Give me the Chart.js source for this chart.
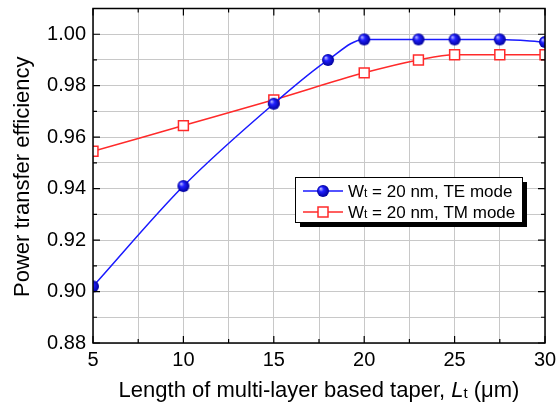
<!DOCTYPE html>
<html>
<head>
<meta charset="utf-8">
<script src="https://cdn.jsdelivr.net/npm/chart.js@4/dist/chart.umd.min.js"></script>
<style>
  body { margin: 0; background: #fff; }
  #wrap { width: 556px; height: 404px; }
</style>
</head>
<body>
<div id="wrap"><canvas id="myChart"></canvas></div>
<script>
// taper length (um) and power transfer efficiency
const teLength = [5, 10, 15, 18, 20, 23, 25, 27.5, 30];
const teEfficiency = [0.902, 0.941, 0.973, 0.990, 0.998, 0.998, 0.998, 0.998, 0.997];
const tmLength = [5, 10, 15, 20, 23, 25, 27.5, 30];
const tmEfficiency = [0.9545, 0.9645, 0.9745, 0.985, 0.990, 0.992, 0.992, 0.992];
const seriesNames = ["= 20 nm, TE mode", "= 20 nm, TM mode"];

const FONT = "'Liberation Sans', Arial, sans-serif";
const BLUE = "#1a1aff";
const RED = "#ff2a2a";

// shaded blue ball used as the TE marker
function makeBall(r) {
  const c = document.createElement("canvas");
  c.width = c.height = r * 2 + 2;
  const g = c.getContext("2d");
  const m = r + 1;
  const grad = g.createRadialGradient(m - r * 0.4, m - r * 0.4, 0.5, m, m, r);
  grad.addColorStop(0, "#b0b0ff");
  grad.addColorStop(0.35, "#2020ff");
  grad.addColorStop(1, "#00009a");
  g.fillStyle = grad;
  g.beginPath();
  g.arc(m, m, r, 0, Math.PI * 2);
  g.fill();
  return c;
}
const ball = makeBall(6);

const toPoints = (xs, ys) => xs.map((x, i) => ({ x: x, y: ys[i] }));

// frame, inward ticks, axis titles and the boxed legend
const decorations = {
  id: "decorations",
  afterDraw(chart) {
    const ctx = chart.ctx;
    const { left, right, top, bottom } = chart.chartArea;
    const xs = chart.scales.x, ys = chart.scales.y;
    ctx.save();
    ctx.strokeStyle = "#000";
    ctx.lineWidth = 1.5;
    ctx.strokeRect(left, top, right - left, bottom - top);

    ctx.lineWidth = 1.2;
    ctx.beginPath();
    for (let v = 5; v <= 30.001; v += 2.5) {
      const len = v % 5 === 0 ? 7 : 4;
      const px = xs.getPixelForValue(v);
      ctx.moveTo(px, bottom); ctx.lineTo(px, bottom - len);
      ctx.moveTo(px, top); ctx.lineTo(px, top + len);
    }
    for (let i = 88; i <= 101; i++) {
      const len = i % 2 === 0 ? 7 : 4;
      const py = ys.getPixelForValue(i / 100);
      ctx.moveTo(left, py); ctx.lineTo(left + len, py);
      ctx.moveTo(right, py); ctx.lineTo(right - len, py);
    }
    ctx.stroke();

    // y title
    ctx.fillStyle = "#000";
    ctx.font = "22px " + FONT;
    ctx.textAlign = "center";
    ctx.textBaseline = "middle";
    ctx.save();
    ctx.translate(23, (top + bottom) / 2 + 1);
    ctx.rotate(-Math.PI / 2);
    ctx.fillText("Power transfer efficiency", 0, 0);
    ctx.restore();

    // x title with italic L and subscript t
    const parts = [
      { t: "Length of multi-layer based taper, ", f: "22px " + FONT, dy: 0 },
      { t: "L", f: "italic 22px " + FONT, dy: 0 },
      { t: "t", f: "15px " + FONT, dy: 1 },
      { t: " (\u03bcm)", f: "22px " + FONT, dy: 0 }
    ];
    ctx.textAlign = "left";
    ctx.textBaseline = "alphabetic";
    let total = 0;
    parts.forEach((p) => { ctx.font = p.f; p.w = ctx.measureText(p.t).width; total += p.w; });
    let x = (left + right) / 2 - total / 2;
    parts.forEach((p) => { ctx.font = p.f; ctx.fillText(p.t, x, 397 + p.dy); x += p.w; });

    // legend box with shadow
    const bx = 295, by = 177, bw = 227, bh = 45;
    ctx.fillStyle = "#000";
    ctx.fillRect(bx + 5, by + 5, bw, bh);
    ctx.fillStyle = "#fff";
    ctx.fillRect(bx, by, bw, bh);
    ctx.lineWidth = 1;
    ctx.strokeRect(bx + 0.5, by + 0.5, bw, bh);

    const rows = [
      { y: 191, color: BLUE, label: seriesNames[0] },
      { y: 212, color: RED, label: seriesNames[1] }
    ];
    rows.forEach((r, i) => {
      ctx.strokeStyle = r.color;
      ctx.lineWidth = 1.5;
      ctx.beginPath();
      ctx.moveTo(303, r.y); ctx.lineTo(343, r.y);
      ctx.stroke();
      if (i === 0) {
        ctx.drawImage(ball, 323 - ball.width / 2, r.y - ball.height / 2);
      } else {
        ctx.fillStyle = "#fff";
        ctx.fillRect(318, r.y - 5, 10, 10);
        ctx.strokeRect(318, r.y - 5, 10, 10);
      }
      ctx.fillStyle = "#000";
      ctx.textBaseline = "middle";
      ctx.font = "17px " + FONT;
      ctx.fillText("W", 348, r.y + 1);
      let wx = 348 + ctx.measureText("W").width;
      ctx.font = "12px " + FONT;
      ctx.fillText("t", wx, r.y + 3);
      wx += ctx.measureText("t").width;
      ctx.font = "17px " + FONT;
      ctx.fillText(" " + r.label, wx, r.y + 1);
    });
    ctx.restore();
  }
};

const ctx = document.getElementById("myChart");
new Chart(ctx, {
  type: "line",
  plugins: [decorations],
  data: {
    datasets: [
      {
        label: "TE",
        data: toPoints(teLength, teEfficiency),
        borderColor: BLUE,
        borderWidth: 1.5,
        pointStyle: ball,
        cubicInterpolationMode: "monotone",
        order: 1
      },
      {
        label: "TM",
        data: toPoints(tmLength, tmEfficiency),
        borderColor: RED,
        borderWidth: 1.5,
        pointStyle: "rect",
        pointRadius: 7,
        pointBackgroundColor: "#fff",
        pointBorderColor: RED,
        pointBorderWidth: 1.5,
        cubicInterpolationMode: "monotone",
        order: 2
      }
    ]
  },
  options: {
    responsive: true,
    maintainAspectRatio: false,
    animation: false,
    layout: { padding: { top: 8, right: 11, left: 0, bottom: 0 } },
    plugins: { legend: { display: false }, tooltip: { enabled: false } },
    scales: {
      x: {
        type: "linear",
        min: 5,
        max: 30,
        afterFit: (s) => { s.height = 61; s.paddingLeft = 0; s.paddingRight = 0; },
        grid: { color: "#c8c8c8", borderDash: [2, 2], drawTicks: false },
        border: { display: false },
        ticks: {
          stepSize: 2.5,
          autoSkip: false,
          maxRotation: 0,
          padding: 5,
          color: "#000",
          font: { family: FONT, size: 20 },
          callback: (v) => (v % 5 === 0 ? v : "")
        }
      },
      y: {
        min: 0.88,
        max: 1.01,
        afterFit: (s) => { s.width = 93; s.paddingTop = 0; s.paddingBottom = 0; },
        grid: { color: "#c8c8c8", borderDash: [2, 2], drawTicks: false },
        border: { display: false },
        ticks: {
          stepSize: 0.01,
          autoSkip: false,
          padding: 7,
          color: "#000",
          font: { family: FONT, size: 20 },
          callback: (v) => (Math.round(v * 100) % 2 === 0 ? v.toFixed(2) : "")
        }
      }
    }
  }
});
</script>
</body>
</html>
